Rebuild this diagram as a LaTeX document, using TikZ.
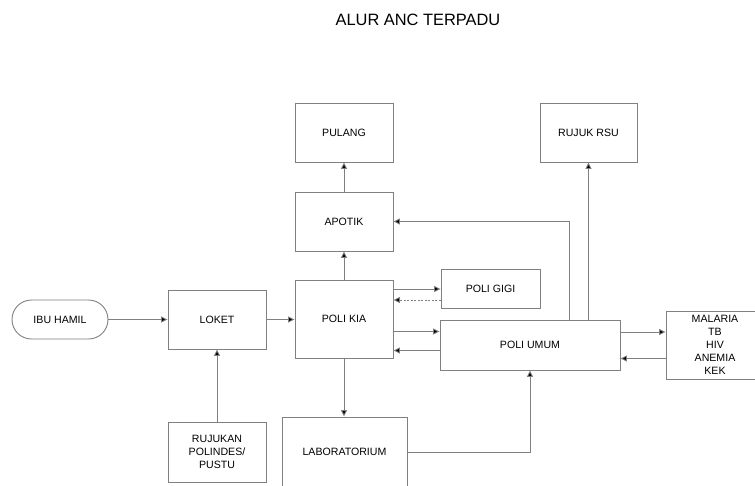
\documentclass[tikz,border=0pt]{standalone}
\usepackage{fontspec}
\setmainfont{Liberation Sans}
\usetikzlibrary{arrows.meta,calc}
\begin{document}
\begin{tikzpicture}[x=1pt,y=-1pt,
  line color/.style={draw=black!50, line width=0.9pt},
  box/.style={line color, rectangle, inner sep=1pt, align=center, font=\fontsize{10.6}{13}\selectfont, text=black},
  conn/.style={line color, -{Triangle[length=6.5pt,width=6pt,fill=black]}},
  dconn/.style={conn, dashed, dash pattern=on 2pt off 1.5pt}]
\useasboundingbox (0,0) rectangle (755,485);
\node[font=\fontsize{16.4}{19}\selectfont, text=black] (title) at (418,20) {ALUR ANC TERPADU};
\node[box, minimum width=98pt, minimum height=59pt] (pulang) at (344,132.5) {PULANG};
\node[box, minimum width=98pt, minimum height=59pt] (apotik) at (344,221.5) {APOTIK};
\node[box, minimum width=98pt, minimum height=78pt] (kia) at (344,319) {POLI KIA};
\node[box, minimum width=99pt, minimum height=39pt] (gigi) at (490.5,288.5) {POLI GIGI};
\node[box, minimum width=180pt, minimum height=50pt] (umum) at (530,345) {POLI UMUM};
\node[box, minimum width=97pt, minimum height=59pt] (rsu) at (588.5,132.5) {RUJUK RSU};
\node[box, minimum width=98pt, minimum height=68pt] (mal) at (715,345) {MALARIA\\TB\\HIV\\ANEMIA\\KEK};
\node[box, minimum width=96pt, minimum height=39pt, rounded corners=19.5pt] (ibu) at (60,319.5) {IBU HAMIL};
\node[box, minimum width=98pt, minimum height=59pt] (loket) at (217,319.5) {LOKET};
\node[box, minimum width=98pt, minimum height=60pt] (rujukan) at (217,452) {RUJUKAN\\POLINDES/\\PUSTU};
\node[box, minimum width=125pt, minimum height=70pt] (lab) at (344.5,452) {LABORATORIUM};
\draw[conn] (ibu.east) -- (loket.west);
\draw[conn] (loket.east) -- (kia.west |- loket.east);
\draw[conn] (rujukan.north) -- (loket.south);
\draw[conn] (kia.north) -- (apotik.south);
\draw[conn] (apotik.north) -- (pulang.south);
\draw[conn] (kia.south) -- (lab.north -| kia.south);
\draw[conn] (kia.east |- 0,289) -- (gigi.west |- 0,289);
\draw[dconn] (gigi.west |- 0,300) -- (kia.east |- 0,300);
\draw[conn] (kia.east |- 0,331.5) -- (umum.west |- 0,331.5);
\draw[conn] (umum.west |- 0,350.5) -- (kia.east |- 0,350.5);
\draw[conn] (umum.north -| 569,0) |- (apotik.east);
\draw[conn] (umum.north -| rsu.south) -- (rsu.south);
\draw[conn] (umum.east |- 0,332) -- (mal.west |- 0,332);
\draw[conn] (mal.west |- 0,358.5) -- (umum.east |- 0,358.5);
\draw[conn] (lab.east) -| (umum.south);
\end{tikzpicture}
\end{document}
